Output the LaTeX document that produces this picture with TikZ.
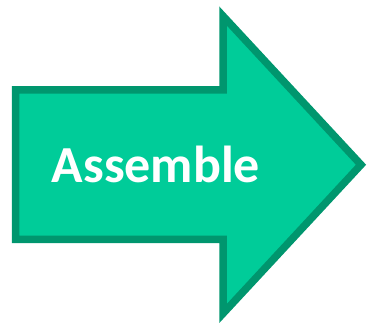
\documentclass[tikz,border=0pt]{standalone}
\usepackage{fontspec}
\setmainfont{Carlito}
\definecolor{arrowfill}{RGB}{0,204,153}
\definecolor{arrowline}{RGB}{0,150,110}
\begin{document}
\begin{tikzpicture}[x=1pt,y=-1pt,
  bigarrow/.style={fill=arrowfill,draw=arrowline,line width=7.5pt,line join=miter,miter limit=10},
  label/.style={text=white,font=\fontsize{52}{62}\selectfont\bfseries,inner sep=0pt}]
\useasboundingbox (0,0) rectangle (367,323);
\draw[bigarrow] (15.5,90) -- (223,90) -- (223,16) -- (361,164.75) -- (223,313.5) -- (223,239.5) -- (15.5,239.5) -- cycle;
\node[label,anchor=base] (txt) at (156,182.5) {Assemble};
\end{tikzpicture}
\end{document}
